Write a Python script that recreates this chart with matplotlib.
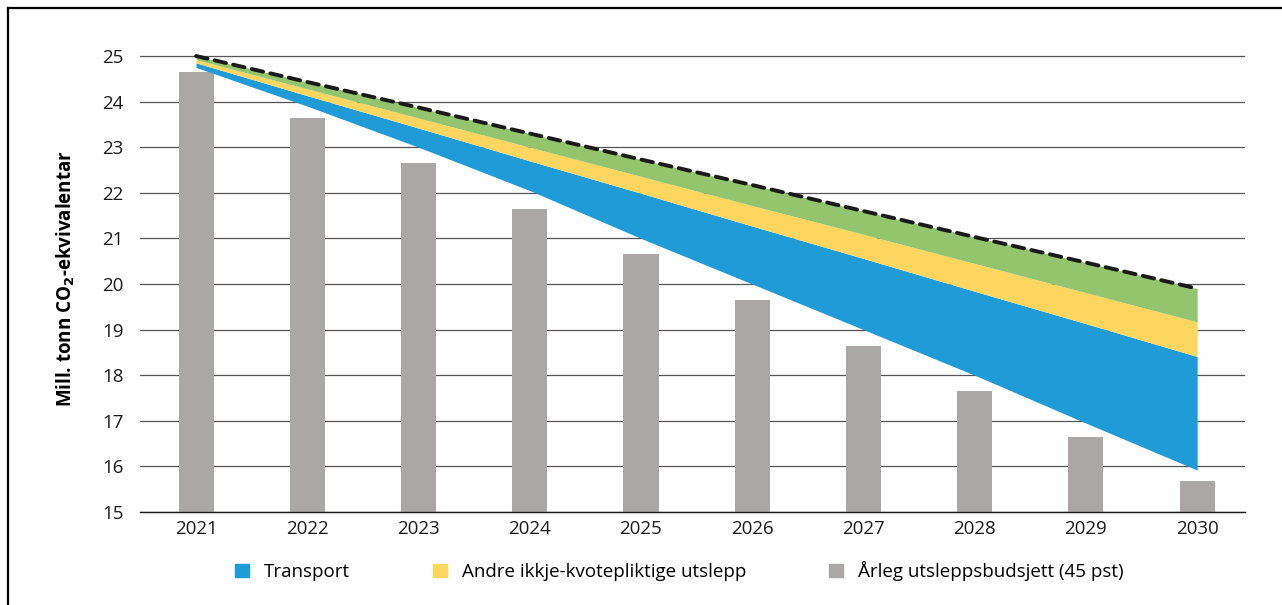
import numpy as np
import matplotlib
matplotlib.use("Agg")
import matplotlib.pyplot as plt
from matplotlib.patches import Patch
from matplotlib.lines import Line2D

plt.rcParams['font.family'] = ['Open Sans', 'DejaVu Sans']

# Data
years = [2021, 2022, 2023, 2024, 2025, 2026, 2027, 2028, 2029, 2030]
budget = [24.65, 23.65, 22.65, 21.65, 20.65, 19.65, 18.65, 17.65, 16.65, 15.67]
transport_low = [24.75, 23.9, 23.0, 22.05, 21.0, 20.0, 19.0, 18.0, 16.95, 15.92]
transport_high = [24.85, 24.13, 23.42, 22.70, 21.99, 21.27, 20.56, 19.84, 19.13, 18.41]
andre_high = [24.92, 24.28, 23.64, 23.00, 22.36, 21.72, 21.09, 20.45, 19.81, 19.17]
total = [25.0, 24.43, 23.87, 23.30, 22.73, 22.17, 21.60, 21.03, 20.47, 19.90]
yticks = list(range(15, 26))

labels = ['Transport', 'Andre ikkje-kvotepliktige utslepp',
          'Årleg utsleppsbudsjett (45 pst)']

c_blue = '#1f9bd7'
c_yellow = '#fdd660'
c_green = '#93c56e'
c_grey = '#aba7a6'

fig = plt.figure(figsize=(12.82, 6.05), dpi=100)
ax = fig.add_axes([140 / 1282, 1 - 512 / 605, (1245 - 140) / 1282, (512 - 44.6) / 605])

ax.bar(years, budget, width=0.315, color=c_grey, zorder=2)
ax.fill_between(years, transport_low, transport_high, color=c_blue, lw=0, zorder=3)
ax.fill_between(years, transport_high, andre_high, color=c_yellow, lw=0, zorder=3)
ax.fill_between(years, andre_high, total, color=c_green, lw=0, zorder=3)
ax.plot(years, total, color='#1a1a1a', lw=2.8, ls=(0, (3.0, 1.9)),
        dash_capstyle='round', zorder=4, clip_on=False)

ax.set_xlim(2020.496, 2030.43)
ax.set_ylim(15, 25.25)
ax.set_yticks(yticks)
ax.set_xticks(years)
ax.tick_params(axis='both', length=0, labelsize=13.5, colors='#1a1a1a')
ax.tick_params(axis='y', pad=12)
ax.tick_params(axis='x', pad=6)
ax.grid(axis='y', color='#555555', lw=0.9, zorder=1)
ax.set_axisbelow(True)
for s in ['top', 'right', 'left']:
    ax.spines[s].set_visible(False)
ax.spines['bottom'].set_color('#1a1a1a')
ax.spines['bottom'].set_linewidth(1.0)
ax.spines['bottom'].set_zorder(5)

ax.set_ylabel(r'Mill. tonn CO$_\mathbf{2}$-ekvivalentar', fontsize=13.5,
              fontweight='bold', labelpad=18)

handles = [Patch(color=c_blue), Patch(color=c_yellow), Patch(color=c_grey)]
fig.legend(handles, labels, loc='center', bbox_to_anchor=(0.530, 0.056), ncol=3,
           frameon=False, fontsize=13.5, handlelength=0.75, handleheight=0.75,
           handletextpad=0.8, columnspacing=4.4)

# frame lines (left and top) of the cropped figure
fig.add_artist(Line2D([8 / 1282, 8 / 1282], [0, 1 - 8 / 605], color='black',
                      lw=1.6, transform=fig.transFigure))
fig.add_artist(Line2D([8 / 1282, 1], [1 - 8 / 605, 1 - 8 / 605], color='black',
                      lw=1.6, transform=fig.transFigure))

fig.savefig('out.png', dpi=100)
